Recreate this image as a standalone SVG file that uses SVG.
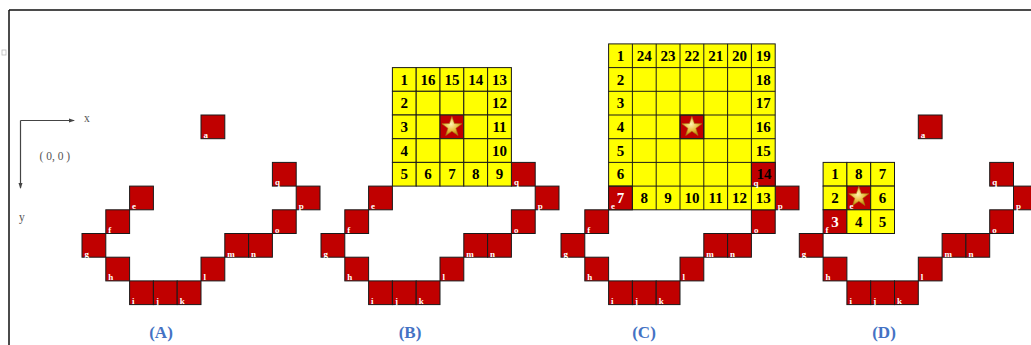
<svg xmlns="http://www.w3.org/2000/svg" width="1031" height="345" viewBox="0 0 1031 345">
<style>
.r{fill:#C00000;stroke:#1a1a1a;stroke-width:1}
.y{fill:#FFFF00;stroke:#1a1a1a;stroke-width:1}
.lb{font-family:"Liberation Serif",serif;font-weight:bold;font-size:9px;fill:#fff}
.n{font-family:"Liberation Serif",serif;font-weight:bold;font-size:15px;fill:#000;text-anchor:middle}
.nw{fill:#fff}
.cap{font-family:"Liberation Serif",serif;font-weight:bold;font-size:17px;fill:#4472C4;text-anchor:middle}
.ax{font-family:"Liberation Serif",serif;font-size:11.5px;fill:#555}
</style>
<defs>
<radialGradient id="gold" cx="0.45" cy="0.4" r="0.6">
<stop offset="0" stop-color="#FFF3B0"/>
<stop offset="0.6" stop-color="#E8B93A"/>
<stop offset="1" stop-color="#B8860B"/>
</radialGradient>
<polygon id="star" points="0,-10.5 2.47,-3.4 9.99,-3.24 3.99,1.3 6.17,8.49 0,4.2 -6.17,8.49 -3.99,1.3 -9.99,-3.24 -2.47,-3.4" fill="url(#gold)" stroke="#A87A10" stroke-width="0.6"/>
<marker id="arr" markerWidth="6" markerHeight="6" refX="5" refY="3" orient="auto" markerUnits="userSpaceOnUse">
<path d="M0,1 L6,3 L0,5 Z" fill="#444"/>
</marker>
</defs>
<rect width="1031" height="345" fill="#fff"/>
<g id="frame">
<path d="M9,10 H1031 M9,10 V345" stroke="#111" stroke-width="1.5" fill="none"/>
<rect x="2" y="50" width="4" height="5" fill="none" stroke="#bbb" stroke-width="0.8"/>
</g>
<g id="connectors">
<path d="M20.5,120.5 H74" stroke="#444" stroke-width="1.2" fill="none" marker-end="url(#arr)"/>
<path d="M20.5,120.5 V188" stroke="#444" stroke-width="1.2" fill="none" marker-end="url(#arr)"/>
</g>
<g id="axis-labels">
<text class="ax" x="84" y="122">x</text>
<text class="ax" x="39.5" y="160">( 0, 0 )</text>
<text class="ax" x="19" y="221">y</text>
</g>

<!-- Panel A -->
<g id="panelA">
<g id="A-a"><rect class="r" x="201" y="115" width="23.8" height="23.7"/><text class="lb" x="203.5" y="138">a</text></g>
<g id="A-q"><rect class="r" x="272.4" y="162.4" width="23.8" height="23.7"/><text class="lb" x="274.9" y="185.4">q</text></g>
<g id="A-e"><rect class="r" x="129.6" y="186.1" width="23.8" height="23.7"/><text class="lb" x="132.1" y="209.1">e</text></g>
<g id="A-p"><rect class="r" x="296.2" y="186.1" width="23.8" height="23.7"/><text class="lb" x="298.7" y="209.1">p</text></g>
<g id="A-f"><rect class="r" x="105.8" y="209.8" width="23.8" height="23.7"/><text class="lb" x="108.3" y="232.8">f</text></g>
<g id="A-o"><rect class="r" x="272.4" y="209.8" width="23.8" height="23.7"/><text class="lb" x="274.9" y="232.8">o</text></g>
<g id="A-g"><rect class="r" x="82" y="233.5" width="23.8" height="23.7"/><text class="lb" x="84.5" y="256.5">g</text></g>
<g id="A-m"><rect class="r" x="224.8" y="233.5" width="23.8" height="23.7"/><text class="lb" x="227.3" y="256.5">m</text></g>
<g id="A-n"><rect class="r" x="248.6" y="233.5" width="23.8" height="23.7"/><text class="lb" x="251.1" y="256.5">n</text></g>
<g id="A-h"><rect class="r" x="105.8" y="257.2" width="23.8" height="23.7"/><text class="lb" x="108.3" y="280.2">h</text></g>
<g id="A-l"><rect class="r" x="201" y="257.2" width="23.8" height="23.7"/><text class="lb" x="203.5" y="280.2">l</text></g>
<g id="A-i"><rect class="r" x="129.6" y="280.9" width="23.8" height="23.7"/><text class="lb" x="132.1" y="303.9">i</text></g>
<g id="A-j"><rect class="r" x="153.4" y="280.9" width="23.8" height="23.7"/><text class="lb" x="155.9" y="303.9">j</text></g>
<g id="A-k"><rect class="r" x="177.2" y="280.9" width="23.8" height="23.7"/><text class="lb" x="179.7" y="303.9">k</text></g>
<text class="cap" x="161" y="338">(A)</text>
</g>

<!-- Panel B -->
<g id="panelB" transform="translate(239,0)">
<g id="B-q"><rect class="r" x="272.4" y="162.4" width="23.8" height="23.7"/><text class="lb" x="274.9" y="185.4">q</text></g>
<g id="B-e"><rect class="r" x="129.6" y="186.1" width="23.8" height="23.7"/><text class="lb" x="132.1" y="209.1">e</text></g>
<g id="B-p"><rect class="r" x="296.2" y="186.1" width="23.8" height="23.7"/><text class="lb" x="298.7" y="209.1">p</text></g>
<g id="B-f"><rect class="r" x="105.8" y="209.8" width="23.8" height="23.7"/><text class="lb" x="108.3" y="232.8">f</text></g>
<g id="B-o"><rect class="r" x="272.4" y="209.8" width="23.8" height="23.7"/><text class="lb" x="274.9" y="232.8">o</text></g>
<g id="B-g"><rect class="r" x="82" y="233.5" width="23.8" height="23.7"/><text class="lb" x="84.5" y="256.5">g</text></g>
<g id="B-m"><rect class="r" x="224.8" y="233.5" width="23.8" height="23.7"/><text class="lb" x="227.3" y="256.5">m</text></g>
<g id="B-n"><rect class="r" x="248.6" y="233.5" width="23.8" height="23.7"/><text class="lb" x="251.1" y="256.5">n</text></g>
<g id="B-h"><rect class="r" x="105.8" y="257.2" width="23.8" height="23.7"/><text class="lb" x="108.3" y="280.2">h</text></g>
<g id="B-l"><rect class="r" x="201" y="257.2" width="23.8" height="23.7"/><text class="lb" x="203.5" y="280.2">l</text></g>
<g id="B-i"><rect class="r" x="129.6" y="280.9" width="23.8" height="23.7"/><text class="lb" x="132.1" y="303.9">i</text></g>
<g id="B-j"><rect class="r" x="153.4" y="280.9" width="23.8" height="23.7"/><text class="lb" x="155.9" y="303.9">j</text></g>
<g id="B-k"><rect class="r" x="177.2" y="280.9" width="23.8" height="23.7"/><text class="lb" x="179.7" y="303.9">k</text></g>
<g id="B-grid">
<rect class="y" x="153.4" y="67.6" width="23.8" height="23.7"/><rect class="y" x="177.2" y="67.6" width="23.8" height="23.7"/><rect class="y" x="201" y="67.6" width="23.8" height="23.7"/><rect class="y" x="224.8" y="67.6" width="23.8" height="23.7"/><rect class="y" x="248.6" y="67.6" width="23.8" height="23.7"/>
<rect class="y" x="153.4" y="91.3" width="23.8" height="23.7"/><rect class="y" x="177.2" y="91.3" width="23.8" height="23.7"/><rect class="y" x="201" y="91.3" width="23.8" height="23.7"/><rect class="y" x="224.8" y="91.3" width="23.8" height="23.7"/><rect class="y" x="248.6" y="91.3" width="23.8" height="23.7"/>
<rect class="y" x="153.4" y="115" width="23.8" height="23.7"/><rect class="y" x="177.2" y="115" width="23.8" height="23.7"/><rect class="r" x="201" y="115" width="23.8" height="23.7"/><rect class="y" x="224.8" y="115" width="23.8" height="23.7"/><rect class="y" x="248.6" y="115" width="23.8" height="23.7"/>
<rect class="y" x="153.4" y="138.7" width="23.8" height="23.7"/><rect class="y" x="177.2" y="138.7" width="23.8" height="23.7"/><rect class="y" x="201" y="138.7" width="23.8" height="23.7"/><rect class="y" x="224.8" y="138.7" width="23.8" height="23.7"/><rect class="y" x="248.6" y="138.7" width="23.8" height="23.7"/>
<rect class="y" x="153.4" y="162.4" width="23.8" height="23.7"/><rect class="y" x="177.2" y="162.4" width="23.8" height="23.7"/><rect class="y" x="201" y="162.4" width="23.8" height="23.7"/><rect class="y" x="224.8" y="162.4" width="23.8" height="23.7"/><rect class="y" x="248.6" y="162.4" width="23.8" height="23.7"/>
<use href="#star" transform="translate(212.9,127)"/>
<text class="n" x="165.3" y="84.6">1</text><text class="n" x="189.1" y="84.6">16</text><text class="n" x="212.9" y="84.6">15</text><text class="n" x="236.7" y="84.6">14</text><text class="n" x="260.5" y="84.6">13</text>
<text class="n" x="165.3" y="108.3">2</text><text class="n" x="260.5" y="108.3">12</text>
<text class="n" x="165.3" y="132">3</text><text class="n" x="260.5" y="132">11</text>
<text class="n" x="165.3" y="155.7">4</text><text class="n" x="260.5" y="155.7">10</text>
<text class="n" x="165.3" y="179.4">5</text><text class="n" x="189.1" y="179.4">6</text><text class="n" x="212.9" y="179.4">7</text><text class="n" x="236.7" y="179.4">8</text><text class="n" x="260.5" y="179.4">9</text>
</g>
<text class="cap" x="171" y="338">(B)</text>
</g>

<!-- Panel C -->
<g id="panelC" transform="translate(479,0)">
<g id="C-p"><rect class="r" x="296.2" y="186.1" width="23.8" height="23.7"/><text class="lb" x="298.7" y="209.1">p</text></g>
<g id="C-f"><rect class="r" x="105.8" y="209.8" width="23.8" height="23.7"/><text class="lb" x="108.3" y="232.8">f</text></g>
<g id="C-o"><rect class="r" x="272.4" y="209.8" width="23.8" height="23.7"/><text class="lb" x="274.9" y="232.8">o</text></g>
<g id="C-g"><rect class="r" x="82" y="233.5" width="23.8" height="23.7"/><text class="lb" x="84.5" y="256.5">g</text></g>
<g id="C-m"><rect class="r" x="224.8" y="233.5" width="23.8" height="23.7"/><text class="lb" x="227.3" y="256.5">m</text></g>
<g id="C-n"><rect class="r" x="248.6" y="233.5" width="23.8" height="23.7"/><text class="lb" x="251.1" y="256.5">n</text></g>
<g id="C-h"><rect class="r" x="105.8" y="257.2" width="23.8" height="23.7"/><text class="lb" x="108.3" y="280.2">h</text></g>
<g id="C-l"><rect class="r" x="201" y="257.2" width="23.8" height="23.7"/><text class="lb" x="203.5" y="280.2">l</text></g>
<g id="C-i"><rect class="r" x="129.6" y="280.9" width="23.8" height="23.7"/><text class="lb" x="132.1" y="303.9">i</text></g>
<g id="C-j"><rect class="r" x="153.4" y="280.9" width="23.8" height="23.7"/><text class="lb" x="155.9" y="303.9">j</text></g>
<g id="C-k"><rect class="r" x="177.2" y="280.9" width="23.8" height="23.7"/><text class="lb" x="179.7" y="303.9">k</text></g>
<g id="C-grid">
<rect class="y" x="129.6" y="43.9" width="166.6" height="165.9"/>
<rect class="r" x="201" y="115" width="23.8" height="23.7"/>
<rect class="r" x="129.6" y="186.1" width="23.8" height="23.7"/>
<rect class="r" x="272.4" y="162.4" width="23.8" height="23.7"/>
<path d="M153.4,43.9 V209.8 M177.2,43.9 V209.8 M201,43.9 V209.8 M224.8,43.9 V209.8 M248.6,43.9 V209.8 M272.4,43.9 V209.8 M129.6,67.6 H296.2 M129.6,91.3 H296.2 M129.6,115 H296.2 M129.6,138.7 H296.2 M129.6,162.4 H296.2 M129.6,186.1 H296.2" stroke="#1a1a1a" stroke-width="1" fill="none"/>
<use href="#star" transform="translate(212.9,127)"/>
<text class="n" x="141.5" y="60.9">1</text><text class="n" x="165.3" y="60.9">24</text><text class="n" x="189.1" y="60.9">23</text><text class="n" x="212.9" y="60.9">22</text><text class="n" x="236.7" y="60.9">21</text><text class="n" x="260.5" y="60.9">20</text><text class="n" x="284.3" y="60.9">19</text>
<text class="n" x="141.5" y="84.6">2</text><text class="n" x="284.3" y="84.6">18</text>
<text class="n" x="141.5" y="108.3">3</text><text class="n" x="284.3" y="108.3">17</text>
<text class="n" x="141.5" y="132">4</text><text class="n" x="284.3" y="132">16</text>
<text class="n" x="141.5" y="155.7">5</text><text class="n" x="284.3" y="155.7">15</text>
<text class="n" x="141.5" y="179.4">6</text><text class="n" x="285" y="178.8">14</text>
<text class="n nw" x="141.5" y="203.1">7</text><text class="n" x="165.3" y="203.1">8</text><text class="n" x="189.1" y="203.1">9</text><text class="n" x="212.9" y="203.1">10</text><text class="n" x="236.7" y="203.1">11</text><text class="n" x="260.5" y="203.1">12</text><text class="n" x="284.3" y="203.1">13</text>
<text class="lb" x="274.4" y="186">q</text>
<text class="lb" x="132.1" y="209.1">e</text>
</g>
<text class="cap" x="165" y="338">(C)</text>
</g>

<!-- Panel D -->
<g id="panelD" transform="translate(717.3,0)">
<g id="D-a"><rect class="r" x="201" y="115" width="23.8" height="23.7"/><text class="lb" x="203.5" y="138">a</text></g>
<g id="D-q"><rect class="r" x="272.4" y="162.4" width="23.8" height="23.7"/><text class="lb" x="274.9" y="185.4">q</text></g>
<g id="D-p"><rect class="r" x="296.2" y="186.1" width="23.8" height="23.7"/><text class="lb" x="298.7" y="209.1">p</text></g>
<g id="D-o"><rect class="r" x="272.4" y="209.8" width="23.8" height="23.7"/><text class="lb" x="274.9" y="232.8">o</text></g>
<g id="D-g"><rect class="r" x="82" y="233.5" width="23.8" height="23.7"/><text class="lb" x="84.5" y="256.5">g</text></g>
<g id="D-m"><rect class="r" x="224.8" y="233.5" width="23.8" height="23.7"/><text class="lb" x="227.3" y="256.5">m</text></g>
<g id="D-n"><rect class="r" x="248.6" y="233.5" width="23.8" height="23.7"/><text class="lb" x="251.1" y="256.5">n</text></g>
<g id="D-h"><rect class="r" x="105.8" y="257.2" width="23.8" height="23.7"/><text class="lb" x="108.3" y="280.2">h</text></g>
<g id="D-l"><rect class="r" x="201" y="257.2" width="23.8" height="23.7"/><text class="lb" x="203.5" y="280.2">l</text></g>
<g id="D-i"><rect class="r" x="129.6" y="280.9" width="23.8" height="23.7"/><text class="lb" x="132.1" y="303.9">i</text></g>
<g id="D-j"><rect class="r" x="153.4" y="280.9" width="23.8" height="23.7"/><text class="lb" x="155.9" y="303.9">j</text></g>
<g id="D-k"><rect class="r" x="177.2" y="280.9" width="23.8" height="23.7"/><text class="lb" x="179.7" y="303.9">k</text></g>
<g id="D-grid">
<rect class="y" x="105.8" y="162.4" width="23.8" height="23.7"/><rect class="y" x="129.6" y="162.4" width="23.8" height="23.7"/><rect class="y" x="153.4" y="162.4" width="23.8" height="23.7"/>
<rect class="y" x="105.8" y="186.1" width="23.8" height="23.7"/><rect class="r" x="129.6" y="186.1" width="23.8" height="23.7"/><rect class="y" x="153.4" y="186.1" width="23.8" height="23.7"/>
<rect class="r" x="105.8" y="209.8" width="23.8" height="23.7"/><rect class="y" x="129.6" y="209.8" width="23.8" height="23.7"/><rect class="y" x="153.4" y="209.8" width="23.8" height="23.7"/>
<use href="#star" transform="translate(141.5,197)"/>
<text class="n" x="117.7" y="179.4">1</text><text class="n" x="141.5" y="179.4">8</text><text class="n" x="165.3" y="179.4">7</text>
<text class="n" x="117.7" y="203.1">2</text><text class="n" x="165.3" y="203.1">6</text>
<text class="n nw" x="117.7" y="226.8">3</text><text class="n" x="141.5" y="226.8">4</text><text class="n" x="165.3" y="226.8">5</text>
<text class="lb" x="132.1" y="209.1">e</text>
<text class="lb" x="108.3" y="232.8">f</text>
</g>
<text class="cap" x="166.7" y="338">(D)</text>
</g>
</svg>
